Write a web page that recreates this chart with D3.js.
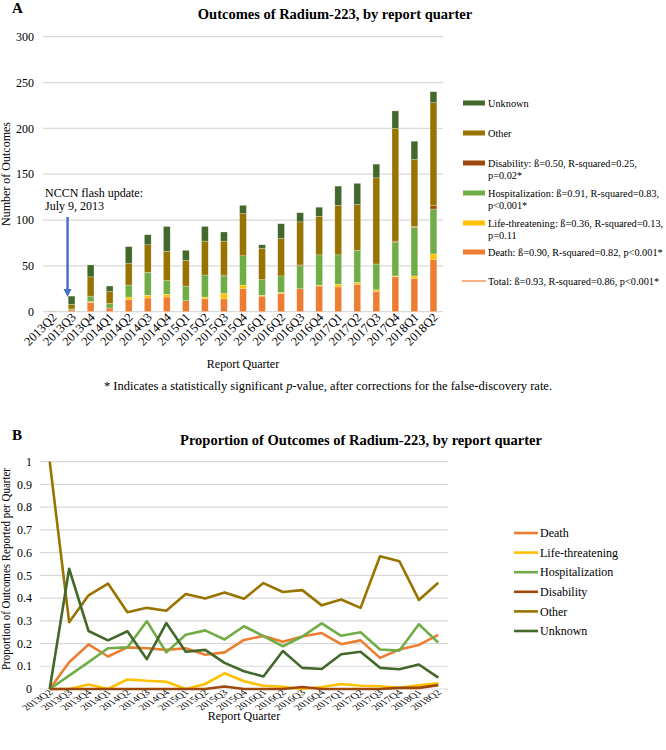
<!DOCTYPE html>
<html>
<head>
<meta charset="utf-8">
<script src="https://cdn.jsdelivr.net/npm/d3@7"></script>
<style>
  body { margin: 0; background: #fff; }
  text { font-family: "Liberation Serif", "Times New Roman", serif; fill: #000; }
</style>
</head>
<body>
<script>
// Report quarters.
const quarters = ["2013Q2", "2013Q3", "2013Q4", "2014Q1", "2014Q2", "2014Q3", "2014Q4",
  "2015Q1", "2015Q2", "2015Q3", "2015Q4", "2016Q1", "2016Q2", "2016Q3", "2016Q4",
  "2017Q1", "2017Q2", "2017Q3", "2017Q4", "2018Q1", "2018Q2"];

// Panel A: counts of outcomes per quarter.
const death = [0, 2, 10, 4, 13, 15, 16, 12, 14, 14, 25, 17, 20, 25, 28, 27, 30, 22, 38, 36, 57];
const lifeThreatening = [0, 0, 1, 0, 3, 3, 3, 0, 2, 6, 4, 1, 1, 0, 1, 3, 2, 2, 1, 3, 6];
const hospitalization = [0, 1, 6, 5, 13, 25, 15, 16, 24, 19, 32, 17, 18, 25, 33, 32, 35, 28, 37, 53, 49];
const disability = [0, 0, 0, 0, 0, 0, 0, 0, 0, 1, 0, 0, 0, 1, 0, 0, 0, 0, 1, 1, 4];
const other = [1, 5, 21, 13, 24, 30, 32, 28, 37, 37, 46, 34, 41, 47, 42, 54, 50, 94, 123, 73, 112];
const unknown = [0, 9, 13, 6, 18, 11, 27, 11, 16, 10, 9, 4, 16, 10, 10, 21, 23, 15, 19, 20, 12];

// Panel B: proportions of outcomes per quarter.
const pDeath = [0, 0.118, 0.196, 0.143, 0.183, 0.179, 0.172, 0.179, 0.151, 0.161, 0.216,
  0.233, 0.208, 0.231, 0.246, 0.197, 0.214, 0.137, 0.174, 0.194, 0.238];
const pLifeThreatening = [0, 0, 0.020, 0, 0.042, 0.036, 0.032, 0, 0.022, 0.069, 0.034,
  0.014, 0.010, 0, 0.009, 0.022, 0.014, 0.012, 0.005, 0.016, 0.025];
const pHospitalization = [0, 0.059, 0.118, 0.179, 0.183, 0.298, 0.161, 0.239, 0.258, 0.218, 0.276,
  0.233, 0.188, 0.231, 0.289, 0.234, 0.250, 0.174, 0.169, 0.285, 0.204];
const pDisability = [0, 0, 0, 0, 0, 0, 0, 0, 0, 0.011, 0, 0, 0, 0.009, 0, 0, 0, 0, 0.005, 0.005, 0.017];
const pOther = [1, 0.294, 0.412, 0.464, 0.338, 0.357, 0.344, 0.418, 0.398, 0.425, 0.397,
  0.466, 0.427, 0.435, 0.368, 0.394, 0.357, 0.584, 0.562, 0.392, 0.467];
const pUnknown = [0, 0.529, 0.255, 0.214, 0.254, 0.131, 0.290, 0.164, 0.172, 0.115, 0.078,
  0.055, 0.167, 0.093, 0.088, 0.153, 0.164, 0.093, 0.087, 0.108, 0.050];

const yTicksA = [0, 50, 100, 150, 200, 250, 300];
const yTicksB = [0, 0.1, 0.2, 0.3, 0.4, 0.5, 0.6, 0.7, 0.8, 0.9, 1];

// Legend texts.
const legendA = [
  ["Unknown"],
  ["Other"],
  ["Disability: ß=0.50, R-squared=0.25,", "p=0.02*"],
  ["Hospitalization: ß=0.91, R-squared=0.83,", "p<0.001*"],
  ["Life-threatening: ß=0.36, R-squared=0.13,", "p=0.11"],
  ["Death: ß=0.90, R-squared=0.82, p<0.001*"],
  ["Total: ß=0.93, R-squared=0.86, p<0.001*"],
];

const colors = {
  death: "#ed7d31",
  lifeThreatening: "#ffc000",
  hospitalization: "#70ad47",
  disability: "#9e480e",
  other: "#997300",
  unknown: "#43682b",
  total: "#f4b183",
};
const grid = "#d9d9d9";

const svg = d3.select("body").append("svg").attr("width", 666).attr("height", 750);

// ---------- Panel A: stacked bars ----------
const keys = ["death", "lifeThreatening", "hospitalization", "disability", "other", "unknown"];
const series = { death, lifeThreatening, hospitalization, disability, other, unknown };
const rows = quarters.map((q, i) => {
  const r = { quarter: q };
  keys.forEach((k) => (r[k] = series[k][i]));
  return r;
});

const xA = d3.scaleBand().domain(quarters).range([43, 443]).paddingInner(0.645).paddingOuter(0.3225);
const yA = d3.scaleLinear().domain([0, 300]).range([311.7, 36.7]);

svg.append("text").attr("x", 12).attr("y", 13).attr("font-size", 15).attr("font-weight", "bold").text("A");
svg.append("text").attr("x", 335).attr("y", 19).attr("text-anchor", "middle")
  .attr("font-size", 14.5).attr("font-weight", "bold")
  .text("Outcomes of Radium-223, by report quarter");

const gA = svg.append("g");
gA.append("g").selectAll("line").data(yTicksA).join("line")
  .attr("x1", 43).attr("x2", 443)
  .attr("y1", (d) => yA(d)).attr("y2", (d) => yA(d))
  .attr("stroke", grid).attr("stroke-width", 1.2);

gA.append("g").selectAll("text").data(yTicksA).join("text")
  .attr("x", 34).attr("y", (d) => yA(d)).attr("dy", "0.35em")
  .attr("text-anchor", "end").attr("font-size", 12).text((d) => d);

const stacked = d3.stack().keys(keys)(rows);
gA.append("g").selectAll("g").data(stacked).join("g")
  .attr("fill", (s) => colors[s.key])
  .selectAll("rect").data((s) => s).join("rect")
  .attr("x", (d) => xA(d.data.quarter))
  .attr("width", xA.bandwidth())
  .attr("y", (d) => yA(d[1]))
  .attr("height", (d) => yA(d[0]) - yA(d[1]))
  // the first quarter is drawn faded in the source
  .attr("fill-opacity", (d) => (d.data.quarter === "2013Q2" ? 0.4 : 1))
  .attr("stroke", "#fff").attr("stroke-opacity", 0.5).attr("stroke-width", 0.5);

gA.append("g").selectAll("text").data(quarters).join("text")
  .attr("transform", (d) => `translate(${xA(d) + xA.bandwidth() / 2 + 5},${318}) rotate(-45)`)
  .attr("text-anchor", "end").attr("font-size", 12.5).text((d) => d);

svg.append("text").attr("transform", "translate(10,174) rotate(-90)")
  .attr("text-anchor", "middle").attr("font-size", 12).text("Number of Outcomes");
svg.append("text").attr("x", 243).attr("y", 368).attr("text-anchor", "middle")
  .attr("font-size", 12).text("Report Quarter");

// Annotation: NCCN flash update.
svg.append("text").attr("x", 45).attr("y", 197).attr("font-size", 12).text("NCCN flash update:");
svg.append("text").attr("x", 45).attr("y", 210).attr("font-size", 12).text("July 9, 2013");
const arrowX = xA("2013Q3") + xA.bandwidth() / 2 - 4;
svg.append("line").attr("x1", arrowX).attr("x2", arrowX).attr("y1", 217).attr("y2", 290)
  .attr("stroke", "#4472c4").attr("stroke-width", 2.5);
svg.append("path")
  .attr("d", `M${arrowX - 4},289 L${arrowX + 4},289 L${arrowX},297 Z`)
  .attr("fill", "#4472c4");

// Legend A.
const legKeysA = ["unknown", "other", "disability", "hospitalization", "lifeThreatening", "death", "total"];
const legYA = [103, 133, 163, 193, 223, 252, 281];
const legA = svg.append("g");
legKeysA.forEach((k, i) => {
  if (k === "total") {
    legA.append("line").attr("x1", 462).attr("x2", 486)
      .attr("y1", legYA[i]).attr("y2", legYA[i])
      .attr("stroke", colors.total).attr("stroke-width", 2);
  } else {
    legA.append("rect").attr("x", 463).attr("y", legYA[i] - 2.5)
      .attr("width", 22).attr("height", 5).attr("fill", colors[k]);
  }
  legendA[i].forEach((line, j) => {
    legA.append("text").attr("x", 488).attr("y", legYA[i] + j * 12.5)
      .attr("dy", "0.35em").attr("font-size", 10.3).text(line);
  });
});

// Footnote.
const foot = svg.append("text").attr("x", 328).attr("y", 390)
  .attr("text-anchor", "middle").attr("font-size", 12.5);
foot.append("tspan").text("* Indicates a statistically significant ");
foot.append("tspan").attr("font-style", "italic").text("p");
foot.append("tspan").text("-value, after corrections for the false-discovery rate.");

// ---------- Panel B: proportion lines ----------
svg.append("text").attr("x", 12).attr("y", 440).attr("font-size", 15).attr("font-weight", "bold").text("B");
svg.append("text").attr("x", 361).attr("y", 445).attr("text-anchor", "middle")
  .attr("font-size", 14.5).attr("font-weight", "bold")
  .text("Proportion of Outcomes of Radium-223, by report quarter");

const xB = d3.scalePoint().domain(quarters).range([40, 448]).padding(0.5);
const yB = d3.scaleLinear().domain([0, 1]).range([689, 461.7]);

const gB = svg.append("g");
gB.append("g").selectAll("line").data(yTicksB).join("line")
  .attr("x1", 40).attr("x2", 448)
  .attr("y1", (d) => yB(d)).attr("y2", (d) => yB(d))
  .attr("stroke", grid).attr("stroke-width", 1.2);
gB.append("g").selectAll("text").data(yTicksB).join("text")
  .attr("x", 32).attr("y", (d) => yB(d)).attr("dy", "0.35em")
  .attr("text-anchor", "end").attr("font-size", 12).text((d) => d);

const linesB = [
  { key: "death", values: pDeath },
  { key: "lifeThreatening", values: pLifeThreatening },
  { key: "hospitalization", values: pHospitalization },
  { key: "disability", values: pDisability },
  { key: "other", values: pOther },
  { key: "unknown", values: pUnknown },
];
const line = d3.line().x((d, i) => xB(quarters[i])).y((d) => yB(d));
gB.append("g").attr("fill", "none").attr("stroke-width", 2.6).attr("stroke-linejoin", "round")
  .selectAll("path").data(linesB).join("path")
  .attr("stroke", (d) => colors[d.key])
  .attr("d", (d) => line(d.values));

// x labels of panel B: 45° text, squeezed vertically like the source panel
gB.append("g").selectAll("text").data(quarters).join("text")
  .attr("transform", (d) => `translate(${xB(d) + 4},${693}) scale(1,0.65) rotate(-45)`)
  .attr("text-anchor", "end").attr("font-size", 12).text((d) => d);

svg.append("text").attr("transform", "translate(10,569) rotate(-90)")
  .attr("text-anchor", "middle").attr("font-size", 12)
  .attr("textLength", 202).attr("lengthAdjust", "spacingAndGlyphs")
  .text("Proportion of Outcomes Reported per Quarter");
svg.append("text").attr("x", 244).attr("y", 720).attr("text-anchor", "middle")
  .attr("font-size", 12).text("Report Quarter");

// Legend B.
const legendB = [
  ["death", "Death"],
  ["lifeThreatening", "Life-threatening"],
  ["hospitalization", "Hospitalization"],
  ["disability", "Disability"],
  ["other", "Other"],
  ["unknown", "Unknown"],
];
const legB = svg.append("g");
legendB.forEach(([k, label], i) => {
  const y = 533 + i * 19.6;
  legB.append("line").attr("x1", 514).attr("x2", 538).attr("y1", y).attr("y2", y)
    .attr("stroke", colors[k]).attr("stroke-width", 2.6);
  legB.append("text").attr("x", 540).attr("y", y).attr("dy", "0.35em")
    .attr("font-size", 12).text(label);
});
</script>
</body>
</html>
